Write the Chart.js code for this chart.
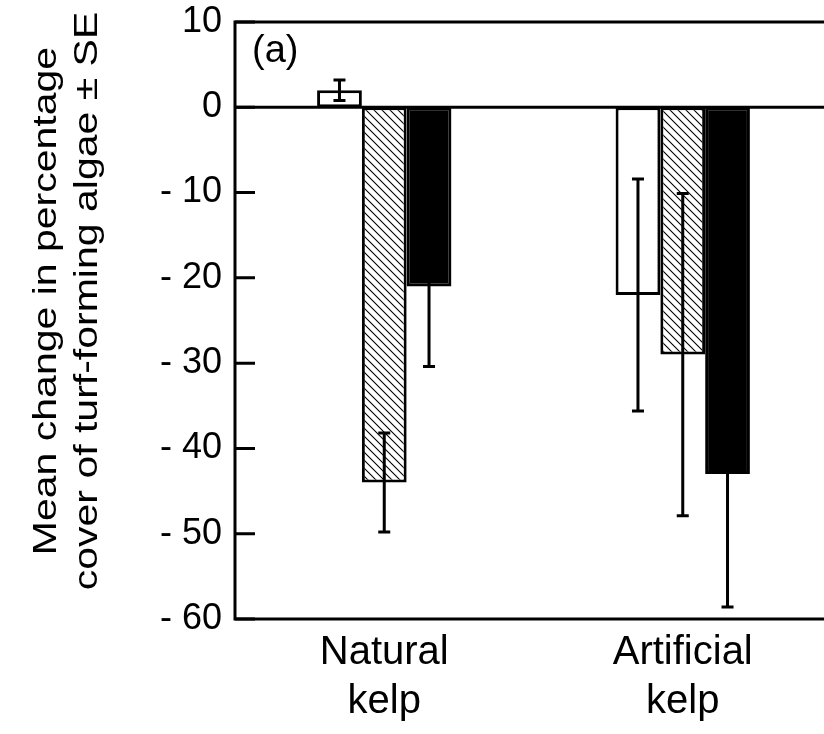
<!DOCTYPE html>
<html lang="en">
  <head>
    <meta charset="UTF-8" />
    <title>Turf-forming algae</title>
    <script src="https://cdn.jsdelivr.net/npm/chart.js@4/dist/chart.umd.min.js"></script>
    <style>
      html, body { margin: 0; padding: 0; background: #fff; overflow: hidden; }
      #wrap { width: 824px; height: 734px; overflow: hidden; }
    </style>
  </head>
  <body>
    <div id="wrap">
      <canvas id="myChart" width="840" height="734"></canvas>
    </div>

    <script>
      // data
      const categories = [["Natural", "kelp"], ["Artificial", "kelp"]];
      const openMean = [2, -22];
      const openSE = [1.2, 13.6];
      const hatchMean = [-44, -29];
      const hatchSE = [5.8, 18.9];
      const solidMean = [-21, -43];
      const solidSE = [9.4, 15.6];
      const yTickValues = [10, 0, -10, -20, -30, -40, -50, -60];
      const yTickLabels = ["10", "0", "- 10", "- 20", "- 30", "- 40", "- 50", "- 60"];
      const yTitle = ["Mean change in percentage", "cover of turf-forming algae \u00b1 SE"];
      const panelLabel = "(a)";

      const FONT = '"Liberation Sans", Arial, sans-serif';

      // diagonal hatch fill
      function makeHatch() {
        const c = document.createElement("canvas");
        c.width = 8;
        c.height = 8;
        const g = c.getContext("2d");
        g.fillStyle = "#fff";
        g.fillRect(0, 0, 8, 8);
        g.strokeStyle = "#000";
        g.lineWidth = 1.1;
        g.beginPath();
        g.moveTo(0, 0); g.lineTo(8, 8);
        g.moveTo(-2, 6); g.lineTo(2, 10);
        g.moveTo(6, -2); g.lineTo(10, 2);
        g.stroke();
        return g.createPattern(c, "repeat");
      }

      const errs = [openSE, hatchSE, solidSE];

      const framePlugin = {
        id: "frame",
        beforeDatasetsDraw(chart) {
          const { ctx, chartArea: a, scales: { y } } = chart;
          const y0 = y.getPixelForValue(0);
          ctx.save();
          ctx.strokeStyle = "#000";
          ctx.lineWidth = 3;
          ctx.beginPath();
          ctx.moveTo(a.left, y0);
          ctx.lineTo(a.right, y0);
          ctx.stroke();
          ctx.restore();
        },
        afterDatasetsDraw(chart) {
          const { ctx, chartArea: a, scales: { y } } = chart;
          ctx.save();
          ctx.strokeStyle = "#000";
          ctx.lineWidth = 3;

          // error bars
          chart.data.datasets.forEach((ds, di) => {
            const meta = chart.getDatasetMeta(di);
            meta.data.forEach((bar, i) => {
              const m = ds.data[i];
              const se = errs[di][i];
              const yt = y.getPixelForValue(m + se);
              const yb = y.getPixelForValue(m - se);
              ctx.beginPath();
              ctx.moveTo(bar.x, yt); ctx.lineTo(bar.x, yb);
              ctx.moveTo(bar.x - 6, yt); ctx.lineTo(bar.x + 6, yt);
              ctx.moveTo(bar.x - 6, yb); ctx.lineTo(bar.x + 6, yb);
              ctx.stroke();
            });
          });

          // frame: left, top, bottom
          ctx.beginPath();
          ctx.moveTo(a.right, a.top);
          ctx.lineTo(a.left, a.top);
          ctx.lineTo(a.left, a.bottom);
          ctx.lineTo(a.right, a.bottom);
          ctx.stroke();

          // inward ticks
          ctx.beginPath();
          yTickValues.forEach((v) => {
            const py = y.getPixelForValue(v);
            ctx.moveTo(a.left, py);
            ctx.lineTo(a.left + 20, py);
          });
          ctx.stroke();

          // panel label
          ctx.fillStyle = "#000";
          ctx.font = "38px " + FONT;
          ctx.textAlign = "left";
          ctx.textBaseline = "alphabetic";
          ctx.fillText(panelLabel, a.left + 17, 62);

          // y title, two lines, slightly condensed like the original
          ctx.textAlign = "center";
          ctx.textBaseline = "middle";
          ctx.font = "41px " + FONT;
          const xs = [47, 88];
          yTitle.forEach((t, i) => {
            ctx.save();
            ctx.translate(xs[i], 301);
            ctx.rotate(-Math.PI / 2);
            ctx.scale(1, 0.82);
            ctx.fillText(t, 0, 0);
            ctx.restore();
          });
          ctx.restore();
        },
      };

      const data = {
        labels: categories,
        datasets: [
          {
            label: "open",
            data: openMean,
            backgroundColor: "#ffffff",
            borderColor: "#000000",
            borderWidth: 3,
            borderSkipped: false,
          },
          {
            label: "hatched",
            data: hatchMean,
            backgroundColor: makeHatch(),
            borderColor: "#000000",
            borderWidth: 3,
            borderSkipped: false,
          },
          {
            label: "solid",
            data: solidMean,
            backgroundColor: "#000000",
            borderColor: "#000000",
            borderWidth: 3,
            borderSkipped: false,
          },
        ],
      };

      const config = {
        type: "bar",
        data,
        options: {
          responsive: false,
          devicePixelRatio: 1,
          animation: false,
          categoryPercentage: 0.45,
          barPercentage: 1,
          layout: { padding: { left: 0, top: 22, right: 8, bottom: 0 } },
          plugins: {
            legend: { display: false },
            tooltip: { enabled: false },
          },
          scales: {
            x: {
              grid: { display: false, drawTicks: false },
              border: { display: false },
              ticks: {
                color: "#000",
                padding: 9,
                maxRotation: 0,
                font: { family: FONT, size: 40, lineHeight: 1.24 },
              },
              afterFit(scale) {
                scale.height = 115;
                scale.paddingLeft = 0;
                scale.paddingRight = 0;
              },
            },
            y: {
              min: -60,
              max: 10,
              grid: { display: false, drawTicks: false },
              border: { display: false },
              afterBuildTicks(scale) {
                scale.ticks = yTickValues.map((v) => ({ value: v }));
              },
              ticks: {
                color: "#000",
                padding: 13,
                font: { family: FONT, size: 36 },
                callback: (v) => yTickLabels[yTickValues.indexOf(v)],
              },
              afterFit(scale) {
                scale.width = 235;
                scale.paddingTop = 0;
                scale.paddingBottom = 0;
              },
            },
          },
        },
        plugins: [framePlugin],
      };

      var myChart = new Chart(document.getElementById("myChart"), config);
    </script>
  </body>
</html>
